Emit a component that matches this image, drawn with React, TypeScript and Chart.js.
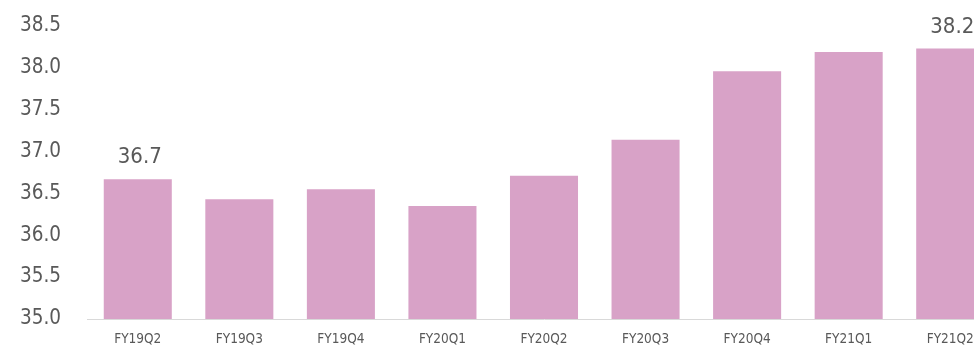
import React, { useEffect, useRef } from "react";
import { Chart, registerables } from "chart.js";

Chart.register(...registerables);

const categories = ["FY19Q2", "FY19Q3", "FY19Q4", "FY20Q1", "FY20Q2", "FY20Q3", "FY20Q4", "FY21Q1", "FY21Q2"];
const values = [36.67, 36.43, 36.55, 36.35, 36.71, 37.14, 37.96, 38.19, 38.23];
const showValueLabel = [true, false, false, false, false, false, false, false, true];
const yMin = 35.0;
const yMax = 38.5;
const yStep = 0.5;

const FONT = "'DejaVu Sans Condensed', 'DejaVu Sans', sans-serif";
const TEXT = "#595959";
const BAR = "#d8a2c7";

// Value callouts above the first and latest quarters
const valueLabelPlugin = {
  id: "valueLabels",
  afterDatasetsDraw(chart: any) {
    const ctx = chart.ctx;
    const meta = chart.getDatasetMeta(0);
    ctx.save();
    ctx.font = `22px ${FONT}`;
    ctx.fillStyle = TEXT;
    ctx.textAlign = "center";
    ctx.textBaseline = "alphabetic";
    meta.data.forEach((bar: any, i: number) => {
      if (!showValueLabel[i]) return;
      ctx.fillText(values[i].toFixed(1), bar.x + 2, bar.y - 16);
    });
    ctx.restore();
  },
};

export default function App() {
  const ref = useRef<HTMLCanvasElement>(null);

  useEffect(() => {
    if (!ref.current) return;
    const chart = new Chart(ref.current, {
      type: "bar",
      data: {
        labels: categories,
        datasets: [
          {
            data: values,
            backgroundColor: BAR,
            borderWidth: 0,
            categoryPercentage: 1,
            barPercentage: 0.67,
          },
        ],
      },
      options: {
        responsive: false,
        animation: false,
        layout: { padding: { top: 26, right: 9, left: 0, bottom: 0 } },
        plugins: { legend: { display: false }, tooltip: { enabled: false } },
        scales: {
          x: {
            grid: { display: false, drawTicks: false },
            border: { display: true, color: "#d9d9d9", width: 1 },
            ticks: {
              color: TEXT,
              font: { family: FONT, size: 13.5 },
              padding: 12,
              maxRotation: 0,
              autoSkip: false,
            },
            afterFit(scale: any) {
              scale.height = 26;
              scale.paddingLeft = 0;
              scale.paddingRight = 0;
            },
          },
          y: {
            min: yMin,
            max: yMax,
            grid: { display: false, drawTicks: false },
            border: { display: false },
            ticks: {
              stepSize: yStep,
              color: TEXT,
              font: { family: FONT, size: 20.5 },
              padding: 26,
              callback: (v: any) => Number(v).toFixed(1),
            },
            afterFit(scale: any) {
              scale.width = 87;
              scale.paddingTop = 0;
              scale.paddingBottom = 0;
            },
          },
        },
      },
      plugins: [valueLabelPlugin],
    });
    return () => chart.destroy();
  }, []);

  return (
    <div style={{ position: "fixed", left: 0, top: 0, width: 974, height: 345, overflow: "hidden", background: "#fff" }}>
      <canvas ref={ref} width={1010} height={345} style={{ display: "block" }} />
    </div>
  );
}
